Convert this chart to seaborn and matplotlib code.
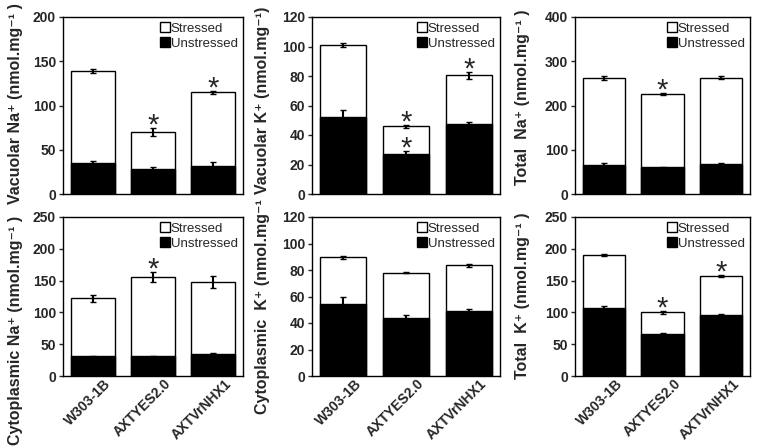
import numpy as np
import pandas as pd
import matplotlib
matplotlib.use("Agg")
import matplotlib.pyplot as plt
import matplotlib.transforms as mtransforms
import seaborn as sns
from matplotlib.lines import Line2D

strains = ["W303-1B", "AXTYES2.0", "AXTVrNHX1"]

# Vacuolar Na+
vna_str = [139, 70, 115]
vna_str_err = [2, 5, 1.5]
vna_uns = [35, 28, 32]
vna_uns_err = [2, 3, 4]

# Vacuolar K+
vk_str = [101, 46, 80.5]
vk_str_err = [1.5, 1, 2.5]
vk_uns = [52.5, 27, 47.5]
vk_uns_err = [4.5, 2, 1]

# Total Na+
tna_str = [262, 226, 263]
tna_str_err = [4, 3, 3]
tna_uns = [66, 60, 68]
tna_uns_err = [3, 2, 3]

# Cytoplasmic Na+
cna_str = [122, 156, 148]
cna_str_err = [6, 8, 9]
cna_uns = [31, 31, 35]
cna_uns_err = [1, 1, 1]

# Cytoplasmic K+
ck_str = [89.5, 78, 83.5]
ck_str_err = [1, 0.5, 1]
ck_uns = [54, 44, 49]
ck_uns_err = [6, 2, 1.5]

# Total K+
tk_str = [190, 100, 157]
tk_str_err = [2, 2, 2]
tk_uns = [107, 66, 96]
tk_uns_err = [3, 2, 1]

panels = [
    ("Vacuolar Na⁺ (nmol.mg⁻¹ )", vna_str, vna_str_err, vna_uns, vna_uns_err, 200, 50,
     [(1, "s"), (2, "s")]),
    ("Vacuolar K⁺ (nmol.mg⁻¹)", vk_str, vk_str_err, vk_uns, vk_uns_err, 120, 20,
     [(1, "s"), (1, "u"), (2, "s")]),
    ("Total  Na⁺ (nmol.mg⁻¹ )", tna_str, tna_str_err, tna_uns, tna_uns_err, 400, 100,
     [(1, "s")]),
    ("Cytoplasmic Na⁺ (nmol.mg⁻¹ )", cna_str, cna_str_err, cna_uns, cna_uns_err, 250, 50,
     [(1, "s")]),
    ("Cytoplasmic  K⁺ (nmol.mg⁻¹", ck_str, ck_str_err, ck_uns, ck_uns_err, 120, 20,
     []),
    ("Total  K⁺ (nmol.mg⁻¹ )", tk_str, tk_str_err, tk_uns, tk_uns_err, 250, 50,
     [(1, "s"), (2, "s")]),
]

sns.set_style("white")
plt.rcParams["font.family"] = ["Liberation Sans", "DejaVu Sans"]
plt.rcParams["font.weight"] = "bold"

fig = plt.figure(figsize=(7.57, 4.47), dpi=100)
W, H = 757, 447
lefts = [63, 312, 575]
rights = [243, 500, 750]
tops = [17, 217]
bottoms = [194, 376]
# y-label centres, figure pixels
label_x = [16, 262, 522]
label_y = [104, 100, 97, 330, 307, 296]

for i, (label, s, se, u, ue, ymax, step, stars) in enumerate(panels):
    r, c = divmod(i, 3)
    ax = fig.add_axes([lefts[c] / W, 1 - bottoms[r] / H, (rights[c] - lefts[c]) / W,
                       (bottoms[r] - tops[r]) / H])
    df = pd.DataFrame({"strain": strains, "stressed": s, "unstressed": u})
    sns.barplot(data=df, x="strain", y="stressed", color="white", edgecolor="black",
                linewidth=1, width=0.73, saturation=1, ax=ax)
    sns.barplot(data=df, x="strain", y="unstressed", color="black", edgecolor="black",
                linewidth=1, width=0.73, saturation=1, ax=ax)
    x = np.arange(len(strains))
    ax.errorbar(x, s, yerr=se, fmt="none", ecolor="black", elinewidth=1.5, capsize=2)
    ax.errorbar(x, u, yerr=ue, fmt="none", ecolor="black", elinewidth=1.5, capsize=2)
    for xi, which in stars:
        top = s[xi] + se[xi] if which == "s" else u[xi] + ue[xi]
        ax.annotate("*", (xi, top), xytext=(0, -4), textcoords="offset points",
                    ha="center", va="baseline", fontsize=21, fontweight="normal")
    ax.set_ylim(0, ymax)
    ax.set_xlim(-0.5, 2.5)
    ax.set_yticks(np.arange(0, ymax + 1, step))
    ax.set_ylabel(label, fontsize=11.5, fontweight="bold", va="center")
    ax.yaxis.set_label_coords(label_x[c] / W, 1 - label_y[i] / H, transform=fig.transFigure)
    ax.set_xlabel("")
    ax.tick_params(axis="y", direction="out", length=3, width=1, labelsize=10, pad=2, left=True)
    ax.tick_params(axis="x", length=0, pad=1)
    if r == 0:
        ax.set_xticklabels([])
    else:
        ax.set_xticks(x)
        ax.set_xticklabels(strains, rotation=45, ha="right", rotation_mode="anchor",
                           fontsize=10, fontweight="bold")
        shift = mtransforms.ScaledTranslation(11 / 100, 1 / 100, fig.dpi_scale_trans)
        for t in ax.get_xticklabels():
            t.set_transform(t.get_transform() + shift)
    for sp in ax.spines.values():
        sp.set_color("black")
        sp.set_linewidth(1)
    handles = [
        Line2D([], [], marker="s", linestyle="none", markerfacecolor="white",
               markeredgecolor="black", markersize=7.5),
        Line2D([], [], marker="s", linestyle="none", markerfacecolor="black",
               markeredgecolor="black", markersize=7.5),
    ]
    ax.legend(handles, ["Stressed", "Unstressed"], loc="upper right", frameon=False,
              prop={"size": 9.5, "weight": "normal"}, handlelength=0.6, handletextpad=0.1,
              labelspacing=0.25, borderaxespad=0.1, borderpad=0.3)

fig.savefig("out.png", dpi=100)
